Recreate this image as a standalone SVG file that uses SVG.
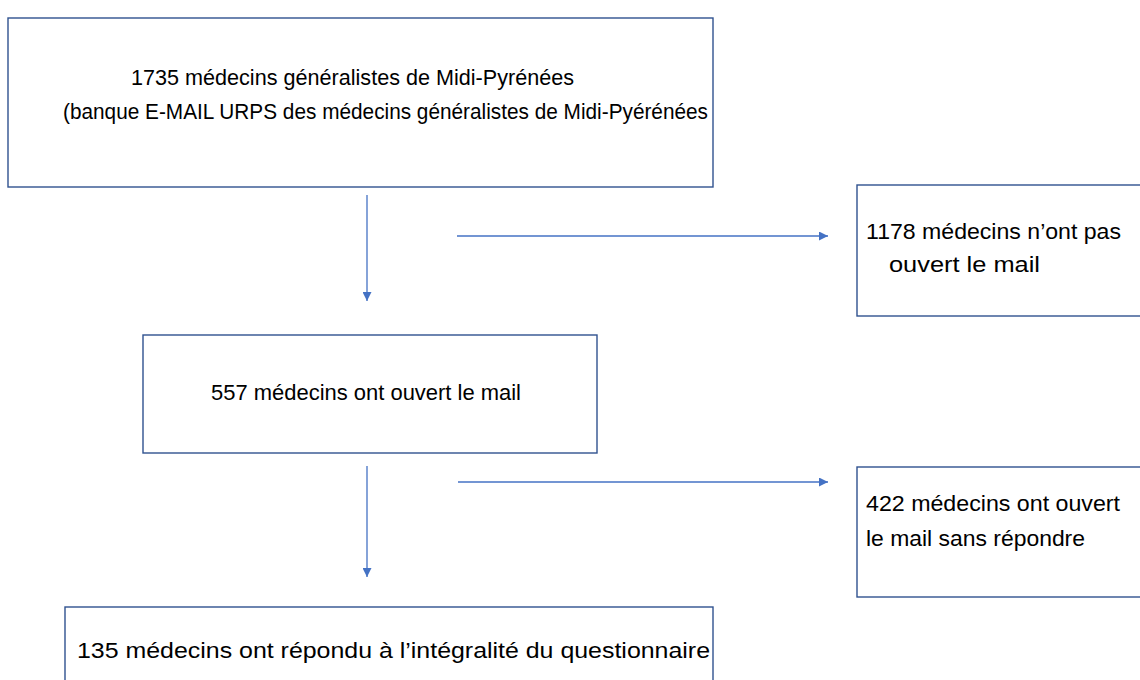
<svg xmlns="http://www.w3.org/2000/svg" width="1140" height="680" viewBox="0 0 1140 680">
<style>
.box{fill:#fff;stroke:#2F528F;stroke-width:1.4}
.t{font-family:"Liberation Sans",Arial,sans-serif;font-size:22px;fill:#000}
.c{stroke:#4472C4;stroke-width:1.3;fill:none}
</style>
<defs>
<marker id="ah" viewBox="0 0 10 10" refX="10" refY="5" markerWidth="9" markerHeight="9" markerUnits="userSpaceOnUse" orient="auto">
<path d="M0,0 L10,5 L0,10 z" fill="#4472C4"/>
</marker>
</defs>
<rect width="1140" height="680" fill="#fff"/>
<g id="n1">
<rect class="box" x="8" y="18" width="705" height="169"/>
<text class="t" x="131" y="85" textLength="443" lengthAdjust="spacingAndGlyphs">1735 médecins généralistes de Midi-Pyrénées</text>
<text class="t" x="63" y="119" textLength="645" lengthAdjust="spacingAndGlyphs">(banque E-MAIL URPS des médecins généralistes de Midi-Pyérénées</text>
</g>
<g id="n2">
<rect class="box" x="857" y="185" width="290" height="131"/>
<text class="t" x="866" y="239" textLength="255" lengthAdjust="spacingAndGlyphs">1178 médecins n’ont pas</text>
<text class="t" x="889" y="272" textLength="151" lengthAdjust="spacingAndGlyphs">ouvert le mail</text>
</g>
<g id="n3">
<rect class="box" x="143" y="335" width="454" height="118"/>
<text class="t" x="211" y="400" textLength="310" lengthAdjust="spacingAndGlyphs">557 médecins ont ouvert le mail</text>
</g>
<g id="n4">
<rect class="box" x="857" y="467" width="290" height="130"/>
<text class="t" x="866" y="511" textLength="254" lengthAdjust="spacingAndGlyphs">422 médecins ont ouvert</text>
<text class="t" x="866" y="546" textLength="219" lengthAdjust="spacingAndGlyphs">le mail sans répondre</text>
</g>
<g id="n5">
<rect class="box" x="65" y="607" width="648" height="90"/>
<text class="t" x="77" y="658" textLength="633" lengthAdjust="spacingAndGlyphs">135 médecins ont répondu à l’intégralité du questionnaire</text>
</g>
<g id="connectors">
<line class="c" x1="367" y1="195" x2="367" y2="301" marker-end="url(#ah)"/>
<line class="c" x1="457" y1="236" x2="828" y2="236" marker-end="url(#ah)"/>
<line class="c" x1="367" y1="466" x2="367" y2="577" marker-end="url(#ah)"/>
<line class="c" x1="458" y1="482" x2="828" y2="482" marker-end="url(#ah)"/>
</g>
</svg>
